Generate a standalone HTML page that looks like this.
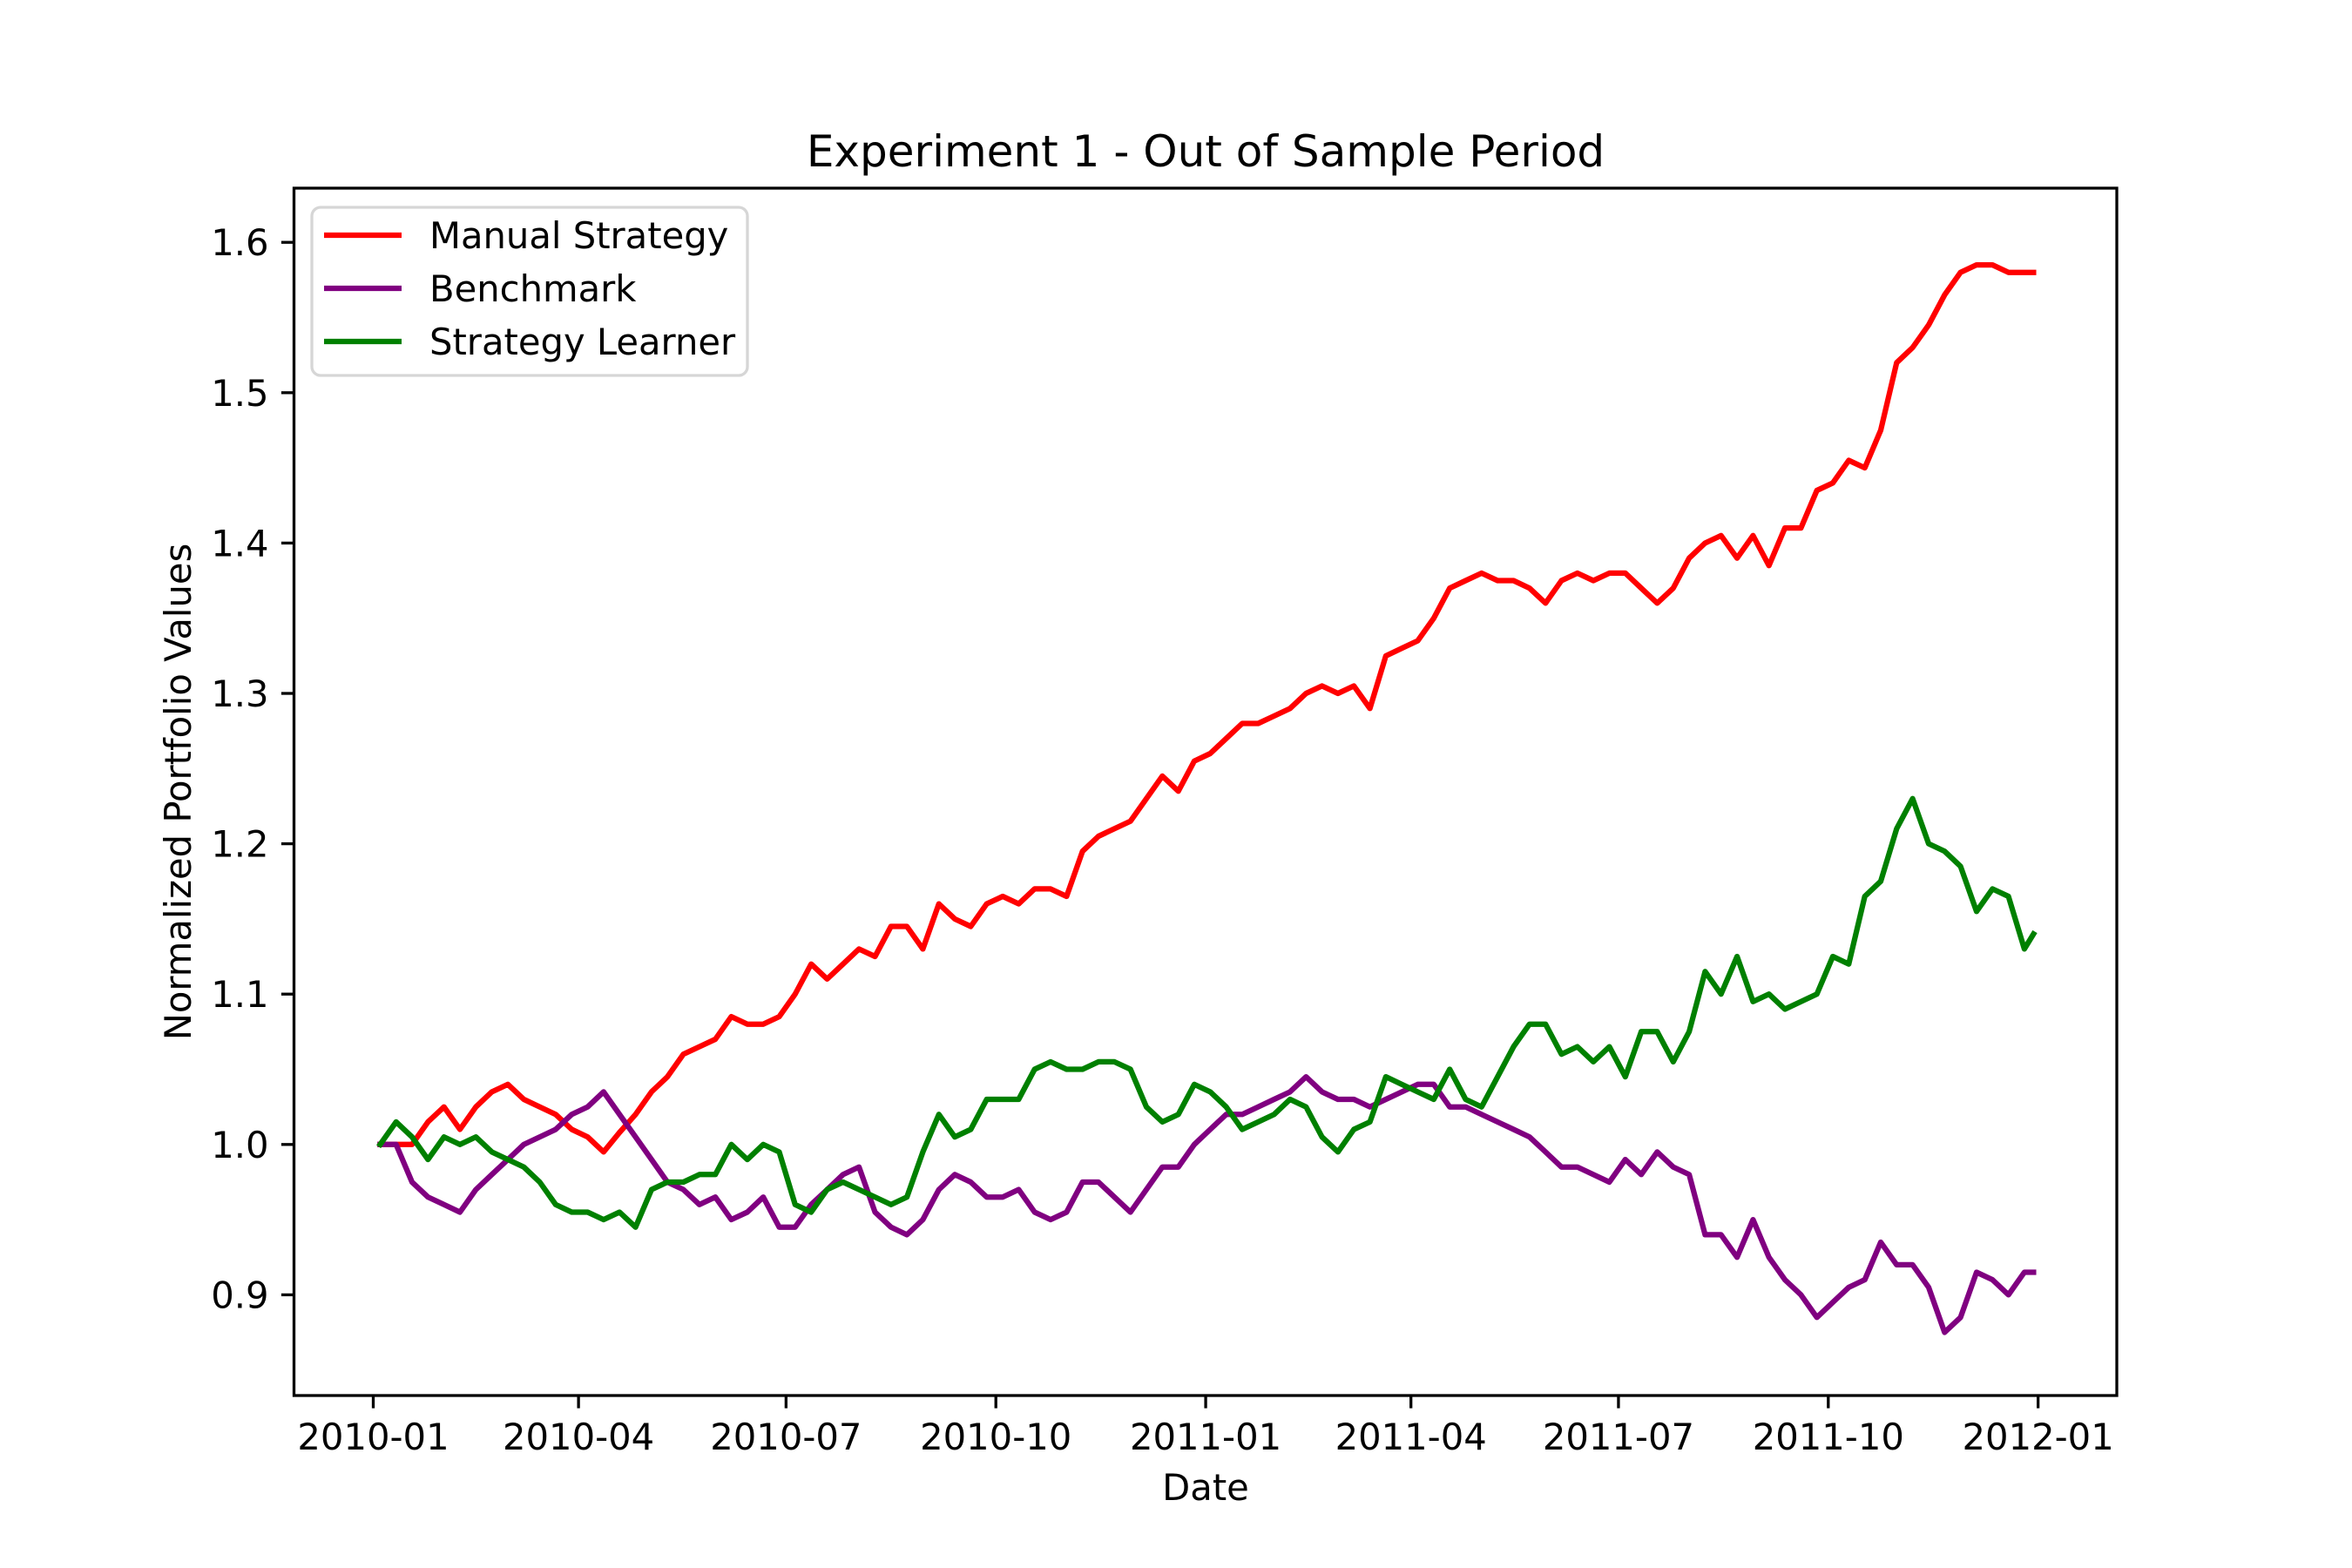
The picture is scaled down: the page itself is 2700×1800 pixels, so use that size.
<!DOCTYPE html>
<html><head><meta charset="utf-8"><style>
html,body{margin:0;padding:0;background:#fff;}
svg{display:block;font-family:"DejaVu Sans","Liberation Sans",sans-serif;}
</style></head><body>
<svg id="chart" width="2700" height="1800" viewBox="0 0 2700 1800" xmlns="http://www.w3.org/2000/svg">
<rect x="0" y="0" width="2700" height="1800" fill="#fff"/>
<text x="1384" y="191" font-size="50" text-anchor="middle">Experiment 1 - Out of Sample Period</text>
<g id="plot"></g>
<g id="axes"></g>
<text x="1384" y="1722" font-size="41.7" text-anchor="middle">Date</text>
<text transform="translate(219,909) rotate(-90)" font-size="41.7" text-anchor="middle">Normalized Portfolio Values</text>
<g>
<rect x="358" y="238" width="500" height="193" rx="10" fill="#fff" fill-opacity="0.8" stroke="#d6d6d6" stroke-width="3.3"/>
<line x1="372" y1="270" x2="461" y2="270" stroke="#ff0000" stroke-width="6.25"/>
<text x="493" y="285" font-size="41.7">Manual Strategy</text>
<line x1="372" y1="331" x2="461" y2="331" stroke="#800080" stroke-width="6.25"/>
<text x="493" y="346" font-size="41.7">Benchmark</text>
<line x1="372" y1="392" x2="461" y2="392" stroke="#008000" stroke-width="6.25"/>
<text x="493" y="407" font-size="41.7">Strategy Learner</text>
</g>
</svg>
<script>
// day offsets from 2010-01-01 (weekly samples)
const days = [3,10,17,24,31,38,45,52,59,66,73,80,87,94,101,108,115,122,129,136,143,150,157,164,171,178,185,192,199,206,213,220,227,234,241,248,255,262,269,276,283,290,297,304,311,318,325,332,339,346,353,360,367,374,381,388,395,402,409,416,423,430,437,444,451,458,465,472,479,486,493,500,507,514,521,528,535,542,549,556,563,570,577,584,591,598,605,612,619,626,633,640,647,654,661,668,675,682,689,696,703,710,717,724,728];
const manual = [1.0,1.0,1.0,1.015,1.025,1.01,1.025,1.035,1.04,1.03,1.025,1.02,1.01,1.005,0.995,1.008,1.02,1.035,1.045,1.06,1.065,1.07,1.085,1.08,1.08,1.085,1.1,1.12,1.11,1.12,1.13,1.125,1.145,1.145,1.13,1.16,1.15,1.145,1.16,1.165,1.16,1.17,1.17,1.165,1.195,1.205,1.21,1.215,1.23,1.245,1.235,1.255,1.26,1.27,1.28,1.28,1.285,1.29,1.3,1.305,1.3,1.305,1.29,1.325,1.33,1.335,1.35,1.37,1.375,1.38,1.375,1.375,1.37,1.36,1.375,1.38,1.375,1.38,1.38,1.37,1.36,1.37,1.39,1.4,1.405,1.39,1.405,1.385,1.41,1.41,1.435,1.44,1.455,1.45,1.475,1.52,1.53,1.545,1.565,1.58,1.585,1.585,1.58,1.58,1.58];
const benchmark = [1.0,1.0,0.975,0.965,0.96,0.955,0.97,0.98,0.99,1.0,1.005,1.01,1.02,1.025,1.035,1.02,1.005,0.99,0.975,0.97,0.96,0.965,0.95,0.955,0.965,0.945,0.945,0.96,0.97,0.98,0.985,0.955,0.945,0.94,0.95,0.97,0.98,0.975,0.965,0.965,0.97,0.955,0.95,0.955,0.975,0.975,0.965,0.955,0.97,0.985,0.985,1.0,1.01,1.02,1.02,1.025,1.03,1.035,1.045,1.035,1.03,1.03,1.025,1.03,1.035,1.04,1.04,1.025,1.025,1.02,1.015,1.01,1.005,0.995,0.985,0.985,0.98,0.975,0.99,0.98,0.995,0.985,0.98,0.94,0.94,0.925,0.95,0.925,0.91,0.9,0.885,0.895,0.905,0.91,0.935,0.92,0.92,0.905,0.875,0.885,0.915,0.91,0.9,0.915,0.915];
const learner = [1.0,1.015,1.005,0.99,1.005,1.0,1.005,0.995,0.99,0.985,0.975,0.96,0.955,0.955,0.95,0.955,0.945,0.97,0.975,0.975,0.98,0.98,1.0,0.99,1.0,0.995,0.96,0.955,0.97,0.975,0.97,0.965,0.96,0.965,0.995,1.02,1.005,1.01,1.03,1.03,1.03,1.05,1.055,1.05,1.05,1.055,1.055,1.05,1.025,1.015,1.02,1.04,1.035,1.025,1.01,1.015,1.02,1.03,1.025,1.005,0.995,1.01,1.015,1.045,1.04,1.035,1.03,1.05,1.03,1.025,1.045,1.065,1.08,1.08,1.06,1.065,1.055,1.065,1.045,1.075,1.075,1.055,1.075,1.115,1.1,1.125,1.095,1.1,1.09,1.095,1.1,1.125,1.12,1.165,1.175,1.21,1.23,1.2,1.195,1.185,1.155,1.17,1.165,1.13,1.14];
const yTicks = [0.9,1.0,1.1,1.2,1.3,1.4,1.5,1.6];
const xTickLabels = ["2010-01","2010-04","2010-07","2010-10","2011-01","2011-04","2011-07","2011-10","2012-01"];
const xTickDays = [0,90,181,273,365,455,546,638,730];

const L=337.5,R=2430,T=216,B=1602;
function xs(d){return 428.5 + d*2.618;}
function ys(v){return 1313.8 - (v-1.0)*1726;}
const NS="http://www.w3.org/2000/svg";
const plot=document.getElementById('plot');
const axes=document.getElementById('axes');
function mk(tag,attrs,parent){const e=document.createElementNS(NS,tag);for(const k in attrs)e.setAttribute(k,attrs[k]);parent.appendChild(e);return e;}

const series=[[manual,'#ff0000','manual-strategy-line'],[benchmark,'#800080','benchmark-line'],[learner,'#008000','strategy-learner-line']];
series.forEach(s=>{
  const pts=s[0].map((v,i)=>xs(days[i]).toFixed(1)+','+ys(v).toFixed(1)).join(' ');
  const pl=mk('polyline',{points:pts,fill:'none',stroke:s[1],'stroke-width':6.25,'stroke-linejoin':'round','stroke-linecap':'square'},plot);
  
  
});

const frame=mk('rect',{x:L,y:T,width:R-L,height:B-T,fill:'none',stroke:'#000','stroke-width':3.3},axes);



yTicks.forEach(v=>{
  const y=ys(v);
  const t=mk('line',{x1:L-14.6,y1:y,x2:L,y2:y,stroke:'#000','stroke-width':3.3},axes);
  
  
  const lb=mk('text',{x:L-29,y:y+15,'font-size':41.7,'text-anchor':'end'},axes);
  lb.textContent=v.toFixed(1);
  
  
});
xTickDays.forEach((d,i)=>{
  const x=xs(d);
  const t=mk('line',{x1:x,y1:B,x2:x,y2:B+14.6,stroke:'#000','stroke-width':3.3},axes);
  
  
  const lb=mk('text',{x:x,y:B+62,'font-size':41.7,'text-anchor':'middle'},axes);
  lb.textContent=xTickLabels[i];
  
  
});
</script>
</body></html>
